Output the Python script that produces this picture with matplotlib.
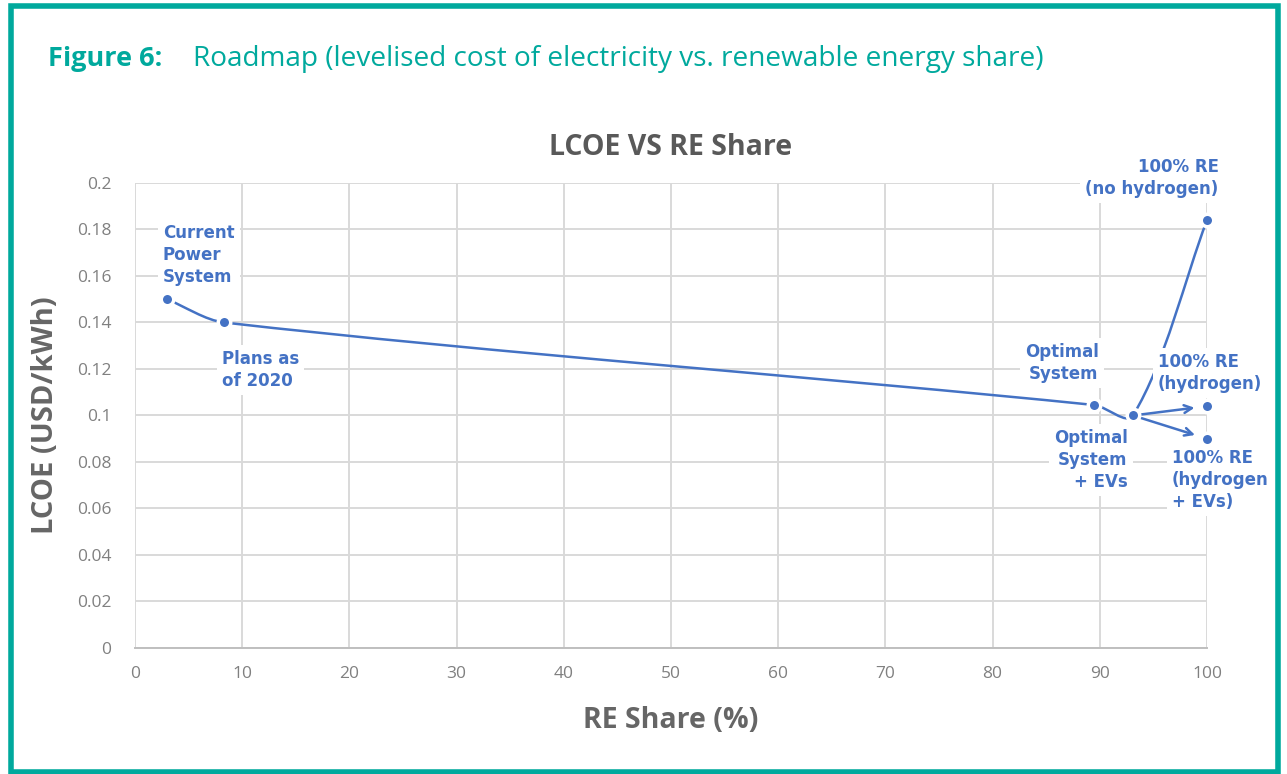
import matplotlib.pyplot as plt
import numpy as np
from matplotlib.path import Path
from matplotlib.patches import PathPatch, Rectangle

plt.rcParams["font.family"] = ["Open Sans", "DejaVu Sans"]

# main smoothed series
main_x = [3.0, 8.3, 89.5, 93.1, 100.0]
main_y = [0.150, 0.140, 0.1045, 0.100, 0.184]

# branch points from "Optimal System + EVs"
branch_from = (93.1, 0.100)
branch_x = [100.0, 100.0]
branch_y = [0.104, 0.090]

labels = [
    "Current\nPower\nSystem",
    "Plans as\nof 2020",
    "Optimal\nSystem",
    "Optimal\nSystem\n+ EVs",
    "100% RE\n(no hydrogen)",
    "100% RE\n(hydrogen)",
    "100% RE\n(hydrogen\n+ EVs)",
]
label_x = [2.6, 8.1, 89.9, 92.6, 101.1, 95.4, 96.7]
label_y = [0.169, 0.1196, 0.1226, 0.0809, 0.2022, 0.1183, 0.0723]
label_ha = ["left", "left", "right", "right", "right", "left", "left"]

xticks = [0, 10, 20, 30, 40, 50, 60, 70, 80, 90, 100]
yticks = [0, 0.02, 0.04, 0.06, 0.08, 0.1, 0.12, 0.14, 0.16, 0.18, 0.2]
ytick_labels = ["0", "0.02", "0.04", "0.06", "0.08", "0.1", "0.12",
                "0.14", "0.16", "0.18", "0.2"]

BLUE = "#4472C4"
TEAL = "#00A99D"
GRAY = "#666666"


def smooth_path(xs, ys, sx, sy, s=0.3):
    # smoothed line through the points, tangents worked out in pixel units
    pts = np.column_stack([np.asarray(xs) * sx, np.asarray(ys) * sy])
    n = len(pts)
    tang = []
    for i in range(n):
        a = pts[max(i - 1, 0)]
        b = pts[min(i + 1, n - 1)]
        d = b - a
        tang.append(d / np.linalg.norm(d))
    verts = [pts[0]]
    codes = [Path.MOVETO]
    for i in range(n - 1):
        seg = np.linalg.norm(pts[i + 1] - pts[i])
        c1 = pts[i] + tang[i] * seg * s
        c2 = pts[i + 1] - tang[i + 1] * seg * s
        verts += [c1, c2, pts[i + 1]]
        codes += [Path.CURVE4] * 3
    verts = np.array(verts) / [sx, sy]
    return Path(verts, codes)


fig = plt.figure(figsize=(12.87, 7.74), dpi=100)
ax = fig.add_axes([0.1049, 0.1628, 0.8329, 0.6008])

# frame around the figure
fig.patches.append(Rectangle((0.0085, 0.003), 0.9845, 0.9895, transform=fig.transFigure,
                             fill=False, edgecolor=TEAL, linewidth=4.0))

ax.set_xlim(0, 100)
ax.set_ylim(0, 0.2)
ax.set_xticks(xticks)
ax.set_yticks(yticks)
ax.set_yticklabels(ytick_labels)
ax.tick_params(length=0, labelsize=12.5, labelcolor="#808080")
ax.tick_params(axis="x", pad=13)
ax.tick_params(axis="y", pad=17)
ax.grid(True, color="#d9d9d9", linewidth=1.4)
ax.set_axisbelow(True)
for side in ["top", "right", "left"]:
    ax.spines[side].set_visible(False)
ax.spines["bottom"].set_color("#bfbfbf")
ax.spines["bottom"].set_linewidth(1.4)

# pixel size of one data unit
sx = 1072 / 100.0
sy = 465 / 0.2
ax.add_patch(PathPatch(smooth_path(main_x, main_y, sx, sy), facecolor="none",
                       edgecolor=BLUE, linewidth=1.8, zorder=3, clip_on=False))

for bx, by in zip(branch_x, branch_y):
    ax.annotate("", xy=(bx, by), xytext=branch_from,
                arrowprops=dict(arrowstyle="->", color=BLUE, lw=1.8,
                                shrinkA=6, shrinkB=9, mutation_scale=14),
                zorder=3)

all_x = main_x + branch_x
all_y = main_y + branch_y
ax.plot(all_x, all_y, linestyle="none", marker="o", markersize=9,
        markerfacecolor=BLUE, markeredgecolor="white", markeredgewidth=2.5,
        zorder=5, clip_on=False)

for txt, lx, ly, ha in zip(labels, label_x, label_y, label_ha):
    ax.text(lx, ly, txt, ha=ha, va="center", color=BLUE, fontsize=12,
            family=["DejaVu Sans"], fontweight="bold", linespacing=1.3,
            zorder=4, clip_on=False,
            bbox=dict(boxstyle="square,pad=0.3", facecolor="white", edgecolor="none"))

ax.set_title("LCOE VS RE Share", fontsize=20.5, fontweight="bold", color="#595959", pad=20)
ax.set_xlabel("RE Share (%)", fontsize=20.5, fontweight="bold", color=GRAY, labelpad=17)
ax.set_ylabel("LCOE (USD/kWh)", fontsize=21, fontweight="bold", color=GRAY, labelpad=12)

fig.text(0.0373, 0.924, "Figure 6:", fontsize=19.5, fontweight="bold", color=TEAL, va="center")
fig.text(0.150, 0.924, "Roadmap (levelised cost of electricity vs. renewable energy share)",
         fontsize=20.2, color=TEAL, va="center")

fig.savefig("out.png", dpi=100)
